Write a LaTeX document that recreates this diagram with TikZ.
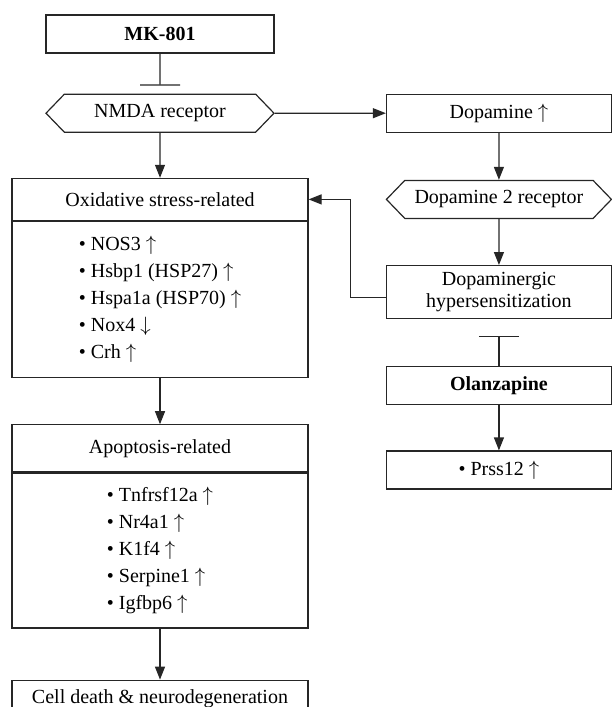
\documentclass[tikz,border=0pt]{standalone}
\usepackage{fontspec}
\setmainfont{Liberation Serif}
\usetikzlibrary{shapes.symbols, arrows.meta, positioning}

\newcommand{\geneup}{~$\uparrow$}
\newcommand{\genedown}{~$\downarrow$}

\begin{document}
\begin{tikzpicture}[
  x=1pt, y=-1pt,
  node distance=46pt and 111pt,
  every node/.style={font=\fontsize{20}{24}\selectfont, line width=1.2pt, draw=black!85},
  box/.style={rectangle, draw, minimum height=38pt, inner sep=2pt},
  hexbox/.style={signal, signal to=west and east, signal pointer angle=92, draw, minimum height=38pt, inner sep=2pt},
  headbox/.style={rectangle, draw, minimum width=296pt, inner sep=2pt},
  listbox/.style={rectangle, draw, minimum width=296pt, align=left, font=\fontsize{20}{27}\selectfont},
  arrow/.style={-{Triangle[length=13pt, width=10pt]}, line width=1.2pt, draw=black!85},
  inhibit/.style={-{Bar[width=40pt]}, line width=1.2pt, draw=black!85}
]
  \useasboundingbox (0,0) rectangle (611,707);

  % Left column
  \node[box, minimum width=228pt, font=\fontsize{20}{24}\selectfont\bfseries] (mk) at (160,34) {MK-801};
  \node[hexbox, minimum width=228pt, below=40pt of mk] (nmda) {NMDA receptor};
  \node[headbox, minimum height=42pt, below=45pt of nmda] (ox) {Oxidative stress-related};
  \node[listbox, minimum height=156pt, below=0pt of ox] (oxlist) {%
    • NOS3\geneup\\ • Hsbp1 (HSP27)\geneup\\ • Hspa1a (HSP70)\geneup\\ • Nox4\genedown\\ • Crh\geneup};
  \node[headbox, minimum height=47pt, below=of oxlist] (apo) {Apoptosis-related};
  \node[listbox, minimum height=155pt, below=0pt of apo] (apolist) {%
    • Tnfrsf12a\geneup\\ • Nr4a1\geneup\\ • K1f4\geneup\\ • Serpine1\geneup\\ • Igfbp6\geneup};
  \node[headbox, minimum height=38pt, below=51pt of apolist] (death) {Cell death \& neurodegeneration};

  % Right column
  \node[box, minimum width=225pt, right=of nmda] (dopa) {Dopamine\geneup};
  \node[hexbox, minimum width=225pt, below=47pt of dopa] (dtwo) {Dopamine 2 receptor};
  \node[box, minimum width=225pt, minimum height=53pt, align=center, font=\fontsize{20}{22}\selectfont, below=of dtwo] (hyper) {Dopaminergic\\hypersensitization};
  \node[box, minimum width=225pt, font=\fontsize{20}{24}\selectfont\bfseries, below=47pt of hyper] (olz) {Olanzapine};
  \node[box, minimum width=225pt, below=45pt of olz] (prss) {• Prss12\geneup};

  % Connectors
  \draw[inhibit, shorten >=8pt] (mk) -- (nmda);
  \draw[arrow] (nmda) -- (ox);
  \draw[arrow] (oxlist) -- (apo);
  \draw[arrow] (apolist) -- (death);
  \draw[arrow] (nmda) -- (dopa);
  \draw[arrow] (dopa) -- (dtwo);
  \draw[arrow] (dtwo) -- (hyper);
  \draw[arrow] ([yshift=-5pt]hyper.west) -- ++(-35pt,0) |- (ox.east);
  \draw[inhibit, shorten >=17pt] (olz) -- (hyper);
  \draw[arrow] (olz) -- (prss);
\end{tikzpicture}
\end{document}
